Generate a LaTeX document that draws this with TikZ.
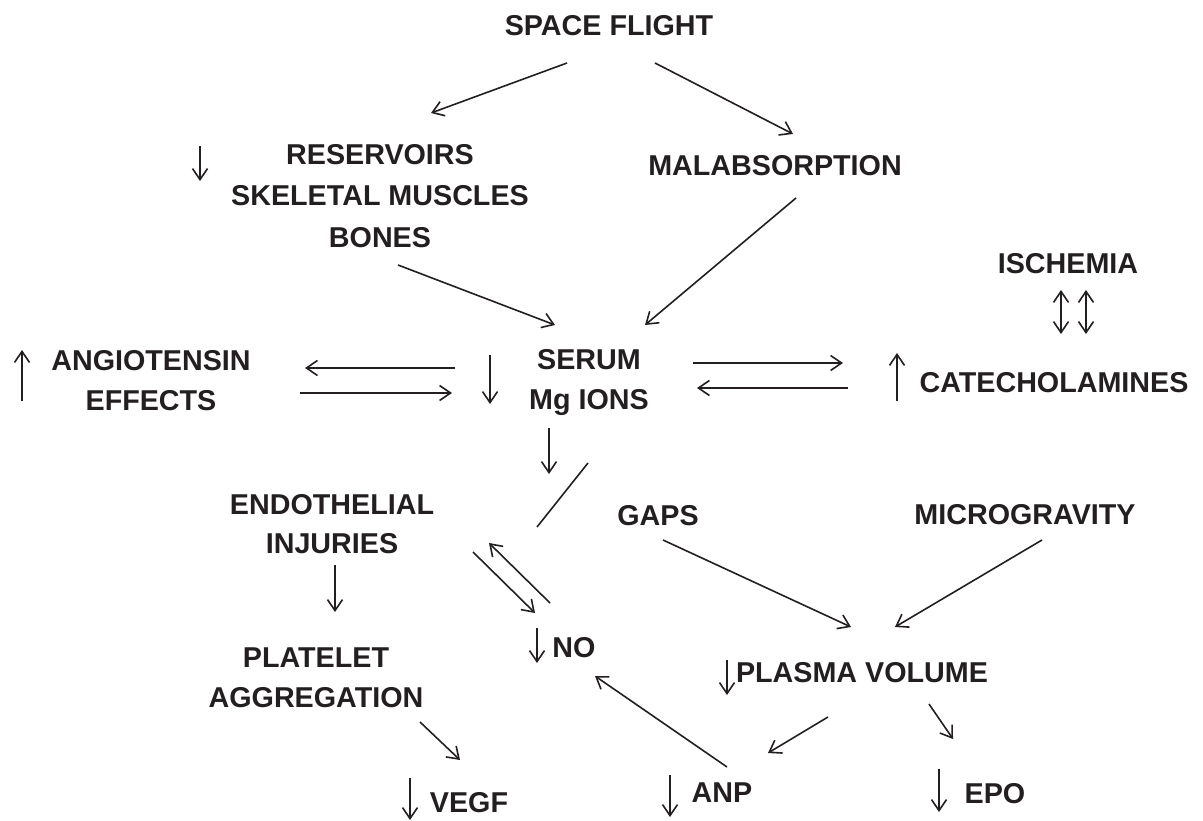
\documentclass[tikz,border=0pt]{standalone}
\usepackage{fontspec}
\setmainfont{Liberation Sans}
\usetikzlibrary{arrows.meta}
\definecolor{ink}{HTML}{231F20}
\begin{document}
\begin{tikzpicture}[x=1pt,y=-1pt,
  lbl/.style={anchor=base, text=ink, font=\fontsize{28.7}{40}\selectfont\bfseries, inner sep=0pt, align=center},
  arr/.style={draw=ink, line width=1.6pt, -{Straight Barb[length=11pt,width=15pt,line width=1.6pt]}},
  dbl/.style={draw=ink, line width=1.6pt, {Straight Barb[length=11pt,width=15pt,line width=1.6pt]}-{Straight Barb[length=11pt,width=15pt,line width=1.6pt]}},
  ln/.style={draw=ink, line width=1.6pt}]
\useasboundingbox (0,0) rectangle (1203,821);

% text nodes (multi-line nodes: base = baseline of the last line)
\node[lbl] (sf) at (609,35.3) {SPACE FLIGHT};
\node[lbl, font=\fontsize{28.7}{41.5}\selectfont\bfseries] (res) at (380,247.3) {RESERVOIRS\\SKELETAL MUSCLES\\BONES};
\node[lbl] (mal) at (775,175.3) {MALABSORPTION};
\node[lbl] (isc) at (1068,273.3) {ISCHEMIA};
\node[lbl] (cat) at (1054,392.3) {CATECHOLAMINES};
\node[lbl] (ser) at (589,409.3) {SERUM\\Mg IONS};
\node[lbl] (ang) at (151,410.3) {ANGIOTENSIN\\EFFECTS};
\node[lbl, font=\fontsize{28.7}{38.5}\selectfont\bfseries] (endo) at (332,553.3) {ENDOTHELIAL\\INJURIES};
\node[lbl] (plat) at (316,707.3) {PLATELET\\AGGREGATION};
\node[lbl] (gaps) at (658,525.3) {GAPS};
\node[lbl] (micro) at (1025,524.3) {MICROGRAVITY};
\node[lbl] (plasma) at (862,682.3) {PLASMA VOLUME};
\node[lbl] (no) at (574,657.3) {NO};
\node[lbl] (vegf) at (469,812.3) {VEGF};
\node[lbl] (anp) at (722,802.3) {ANP};
\node[lbl] (epo) at (995,803.3) {EPO};

% connector end points
\coordinate (sfL) at (567,63);   \coordinate (resT) at (431,113);
\coordinate (sfR) at (655,63);   \coordinate (malT) at (793,134);
\coordinate (resB) at (398,265); \coordinate (serTL) at (555,325);
\coordinate (malB) at (796,198); \coordinate (serTR) at (645,325);
\coordinate (serL1) at (455,368); \coordinate (angR1) at (305,368);
\coordinate (angR2) at (300,393); \coordinate (serL2) at (452,393);
\coordinate (serR1) at (693,363); \coordinate (catL1) at (843,363);
\coordinate (catL2) at (848,388); \coordinate (serR2) at (697,388);
\coordinate (iscB1) at (1061,290); \coordinate (catT1) at (1061,334);
\coordinate (iscB2) at (1086,290); \coordinate (catT2) at (1086,334);
\coordinate (slA) at (588,463);  \coordinate (slB) at (537,527);
\coordinate (endoB1) at (473,552); \coordinate (noT1) at (535,613);
\coordinate (noT2) at (550,603); \coordinate (endoB2) at (489,543);
\coordinate (plB) at (420,722); \coordinate (vegfT) at (460,760);
\coordinate (gapsB) at (663,540); \coordinate (plasT1) at (851,627);
\coordinate (micB) at (1042,540); \coordinate (plasT2) at (895,627);
\coordinate (plasB1) at (828,717); \coordinate (anpT) at (768,753);
\coordinate (plasB2) at (929,704); \coordinate (epoT) at (953,739);
\coordinate (anpTL) at (727,767); \coordinate (noR) at (595,676);

% connectors
\draw[arr] (sfL) -- (resT);
\draw[arr] (sfR) -- (malT);
\draw[arr] (resB) -- (serTL);
\draw[arr] (malB) -- (serTR);
\draw[arr] (serL1) -- (angR1);
\draw[arr] (angR2) -- (serL2);
\draw[arr] (serR1) -- (catL1);
\draw[arr] (catL2) -- (serR2);
\draw[dbl] (iscB1) -- (catT1);
\draw[dbl] (iscB2) -- (catT2);
\draw[ln] (slA) -- (slB);
\draw[arr] (endoB1) -- (noT1);
\draw[arr] (noT2) -- (endoB2);
\draw[arr] (plB) -- (vegfT);
\draw[arr] (gapsB) -- (plasT1);
\draw[arr] (micB) -- (plasT2);
\draw[arr] (plasB1) -- (anpT);
\draw[arr] (plasB2) -- (epoT);
\draw[arr] (anpTL) -- (noR);

% increase / decrease indicator arrows
\draw[arr] (200,146) -- (200,181);
\draw[arr] (22,401) -- (22,350);
\draw[arr] (490,355) -- (490,404);
\draw[arr] (897,401) -- (897,353);
\draw[arr] (549,428) -- (549,474);
\draw[arr] (335,565) -- (335,612);
\draw[arr] (537,628) -- (537,663);
\draw[arr] (727,660) -- (727,695);
\draw[arr] (410,778) -- (410,820);
\draw[arr] (670,775) -- (670,817);
\draw[arr] (939,769) -- (939,812);
\end{tikzpicture}
\end{document}
